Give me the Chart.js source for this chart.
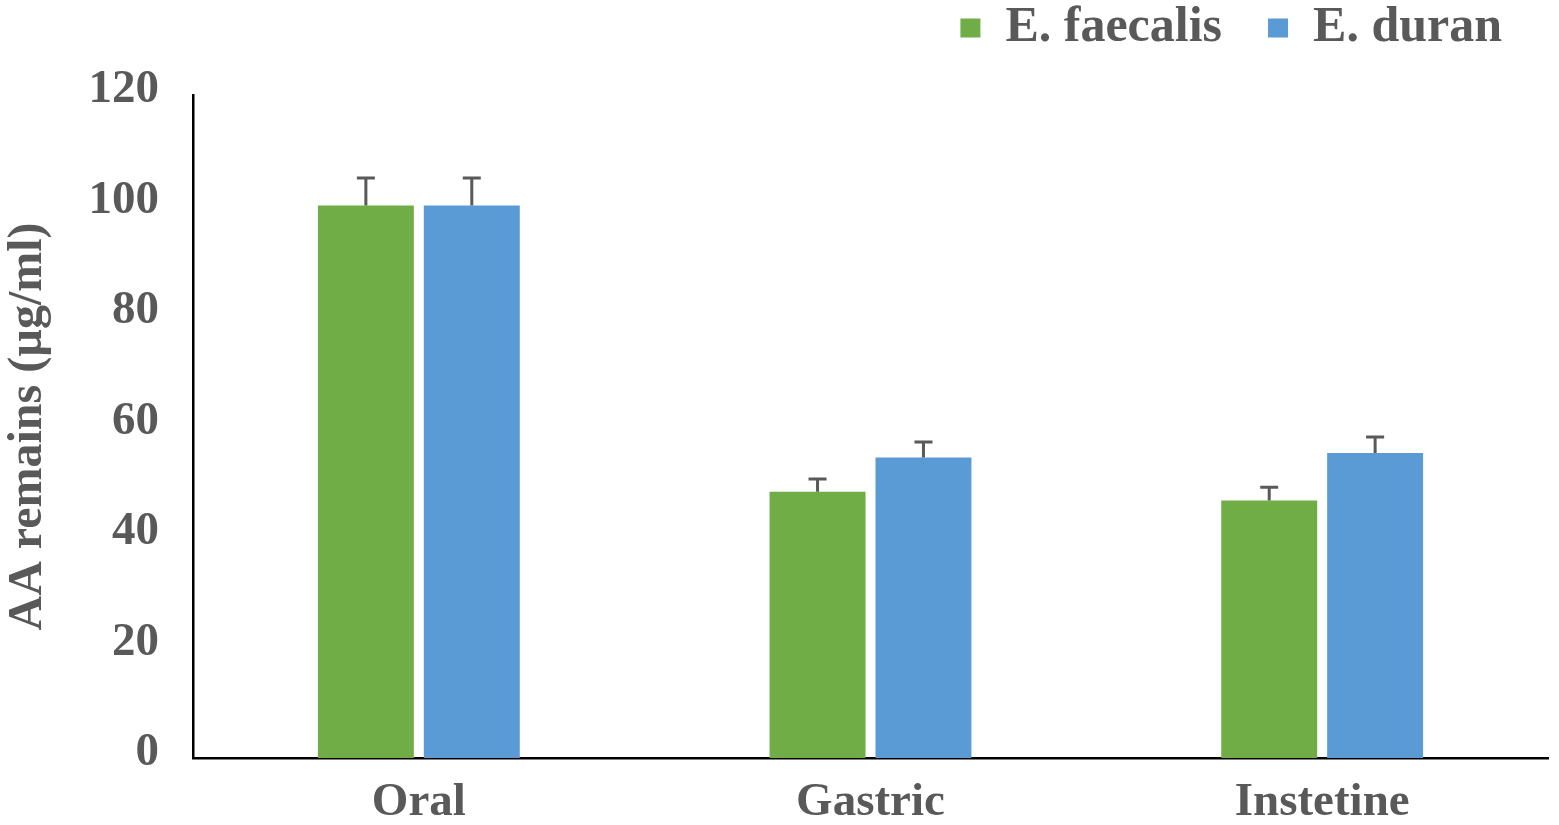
<!DOCTYPE html>
<html><head><meta charset="utf-8">
<script src="https://cdn.jsdelivr.net/npm/chart.js@4/dist/chart.umd.min.js"></script>
<style>html,body{margin:0;padding:0;background:#fff;}#wrap{width:1559px;height:825px;}</style>
</head><body><div id="wrap"><canvas id="c" width="1559" height="825"></canvas></div>
<script>
const categories = ["Oral", "Gastric", "Instetine"];
const faecalisValues = [100, 48.2, 46.6];
const faecalisErrors = [5, 2.3, 2.4];
const duranValues = [100, 54.4, 55.2];
const duranErrors = [5, 2.8, 2.9];
const yTicks = [0, 20, 40, 60, 80, 100, 120];

const FONT = "'Liberation Serif', 'Times New Roman', serif";
const GREY = '#595959';

const errorBars = {
  id: 'errorBars',
  afterDatasetsDraw(chart) {
    const ctx = chart.ctx;
    const yScale = chart.scales.y;
    chart.data.datasets.forEach((ds, i) => {
      const meta = chart.getDatasetMeta(i);
      meta.data.forEach((bar, j) => {
        const top = yScale.getPixelForValue(ds.data[j] + ds.errors[j]);
        ctx.save();
        ctx.strokeStyle = GREY;
        ctx.lineWidth = 3;
        ctx.beginPath();
        ctx.moveTo(bar.x, bar.y);
        ctx.lineTo(bar.x, top);
        ctx.moveTo(bar.x - 9, top);
        ctx.lineTo(bar.x + 9, top);
        ctx.stroke();
        ctx.restore();
      });
    });
  }
};

new Chart(document.getElementById('c'), {
  type: 'bar',
  data: {
    labels: categories,
    datasets: [
      { label: 'E. faecalis', data: faecalisValues, errors: faecalisErrors, backgroundColor: '#70AD47', barPercentage: 0.906, categoryPercentage: 0.469 },
      { label: 'E. duran', data: duranValues, errors: duranErrors, backgroundColor: '#5B9BD5', barPercentage: 0.906, categoryPercentage: 0.469 }
    ]
  },
  options: {
    responsive: false,
    animation: false,
    layout: { padding: { left: 0, right: 11, top: -43, bottom: 0 } },
    plugins: {
      tooltip: { enabled: false },
      legend: {
        position: 'top',
        align: 'end',
        labels: {
          font: { family: FONT, size: 50, weight: 'bold' },
          color: GREY,
          boxWidth: 20,
          boxHeight: 19,
          padding: 46
        }
      }
    },
    scales: {
      x: {
        grid: { display: false, drawTicks: false },
        border: { display: true, color: '#000', width: 2.5 },
        ticks: { font: { family: FONT, size: 47, weight: 'bold' }, color: GREY, padding: 17 },
        afterFit(scale) { scale.height = 67; }
      },
      xTop: {
        type: 'category',
        labels: categories,
        position: 'top',
        grid: { display: false, drawTicks: false },
        border: { display: false },
        ticks: { display: false },
        afterFit(scale) { scale.height = 32; }
      },
      y: {
        min: 0, max: 120,
        afterBuildTicks(scale) { scale.ticks = yTicks.map(v => ({ value: v })); },
        grid: { display: false, drawTicks: false },
        border: { display: true, color: '#000', width: 2.5 },
        ticks: { font: { family: FONT, size: 47, weight: 'bold' }, color: GREY, padding: 34, labelOffset: -5 },
        title: { display: true, text: 'AA remains (µg/ml)', font: { family: FONT, size: 48, weight: 'bold' }, color: GREY, padding: { top: 0, bottom: 0 } },
        afterFit(scale) { scale.width = 193; }
      }
    }
  },
  plugins: [errorBars]
});
</script>
</body></html>
